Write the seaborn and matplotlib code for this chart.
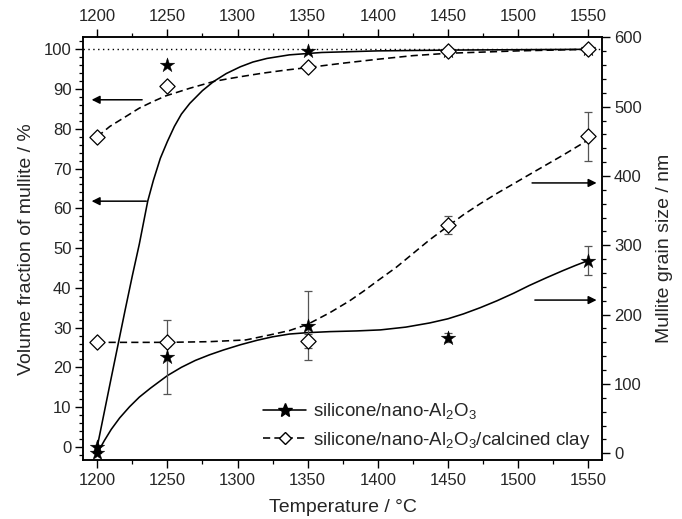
import matplotlib
matplotlib.use("Agg")
import numpy as np
import pandas as pd
import seaborn as sns
import matplotlib.pyplot as plt
from matplotlib.lines import Line2D
from matplotlib.ticker import MultipleLocator

# ---------------- data ----------------
temps = [1200, 1250, 1350, 1450, 1550]

# volume fraction of mullite (%) - left axis
vol_nano = [0, 96, 99.5, 99.6, 100]
vol_clay = [78, 90.7, 95.5, 99.5, 100]

# mullite grain size (nm) - right axis
grain_nano = [0, 138.5, 184, 167, 277.5]
grain_nano_err = [0, 53.6, 50, 7, 21]
grain_clay = [160, 160, 162, 329, 457]
grain_clay_err = [4, 5, 10, 13, 35]

# fitted curves
fit_vol_nano_T = [1200, 1205, 1210, 1215, 1220, 1225, 1230, 1236, 1240, 1245, 1250, 1255, 1260,
                  1266, 1275, 1283, 1292, 1302, 1311, 1321, 1337, 1360, 1400, 1450, 1500, 1550]
fit_vol_nano_v = [0, 8.7, 17.4, 26, 34.6, 43, 51, 61.8, 67, 72.6, 76.8, 80.6, 83.7,
                  86.4, 89.6, 91.9, 93.9, 95.6, 96.8, 97.7, 98.6, 99.2, 99.6, 99.8, 99.9, 100]
fit_vol_clay_T = [1200, 1209, 1220, 1230, 1240, 1249, 1258, 1266, 1275, 1283, 1292, 1302, 1318,
                  1335, 1350, 1375, 1400, 1425, 1450, 1500, 1550]
fit_vol_clay_v = [78, 80.6, 83.0, 85.2, 86.9, 88.3, 89.3, 90.2, 91.1, 91.9, 92.5, 93.1, 94.0,
                  94.8, 95.4, 96.5, 97.5, 98.4, 99.0, 99.6, 100]
fit_grain_nano_T = [1200, 1205, 1210, 1216, 1223, 1230, 1238, 1250, 1260, 1270, 1280, 1290, 1302,
                    1314, 1325, 1337, 1350, 1366, 1385, 1402, 1420, 1437, 1450, 1461, 1473, 1485,
                    1497, 1508, 1520, 1532, 1541, 1550]
fit_grain_nano_r = [0, 18, 34.5, 51, 67, 81, 94, 112, 124, 134, 142, 149, 156.5,
                    163, 168, 172, 174, 175.5, 176.5, 178, 182, 188, 194, 201, 210, 220,
                    231, 242, 253, 263.5, 271, 278]
fit_grain_clay_T = [1200, 1250, 1280, 1306, 1323, 1337, 1350, 1366, 1380, 1390, 1400, 1413, 1425,
                    1437, 1449, 1461, 1473, 1485, 1497, 1508, 1520, 1532, 1550]
fit_grain_clay_r = [160, 160, 161, 163.5, 170.7, 177, 186, 203, 220, 234, 249, 268, 288,
                    308, 326, 344, 360, 375, 389, 402, 416, 430, 452]

# annotation arrows: (tail T, head T, level)
left_arrows = [(1232, 1196, 87.3), (1235, 1196, 61.8)]
right_arrows = [(1510, 1556, 390), (1512, 1556, 221)]

x_ticks = [1200, 1250, 1300, 1350, 1400, 1450, 1500, 1550]
left_ticks = [0, 10, 20, 30, 40, 50, 60, 70, 80, 90, 100]
right_ticks = [0, 100, 200, 300, 400, 500, 600]

label_nano = "silicone/nano-$\\mathregular{Al_2O_3}$"
label_clay = "silicone/nano-$\\mathregular{Al_2O_3}$/calcined clay"

# ---------------- style ----------------
sns.set_theme(style="ticks")
plt.rcParams["font.family"] = ["Liberation Sans", "DejaVu Sans"]
plt.rcParams["mathtext.fontset"] = "custom"
plt.rcParams["mathtext.rm"] = "Liberation Sans"
plt.rcParams["mathtext.default"] = "regular"

fig = plt.figure(figsize=(6.82, 5.19), dpi=100)
ax = fig.add_axes([0.122, 0.1137, 0.761, 0.8143])
ax2 = ax.twinx()

dash = (0, (4.5, 2.6))
lw = 1.15

# curves
sns.lineplot(x=fit_vol_nano_T, y=fit_vol_nano_v, ax=ax, color="black", lw=lw,
             estimator=None, sort=False, legend=False)
sns.lineplot(x=fit_vol_clay_T, y=fit_vol_clay_v, ax=ax, color="black", lw=lw,
             estimator=None, sort=False, legend=False, linestyle=dash)
sns.lineplot(x=fit_grain_nano_T, y=fit_grain_nano_r, ax=ax2, color="black", lw=lw,
             estimator=None, sort=False, legend=False)
sns.lineplot(x=fit_grain_clay_T, y=fit_grain_clay_r, ax=ax2, color="black", lw=lw,
             estimator=None, sort=False, legend=False, linestyle=dash)

# dotted 100% line
ax.axhline(100, color="black", lw=1.0, ls=(0, (1, 2.5)), zorder=1)

# error bars
ax2.errorbar(temps, grain_nano, yerr=grain_nano_err, fmt="none", ecolor="#555555",
             elinewidth=0.9, capsize=3.2, capthick=0.9, zorder=2)
ax2.errorbar(temps, grain_clay, yerr=grain_clay_err, fmt="none", ecolor="#555555",
             elinewidth=0.9, capsize=3.2, capthick=0.9, zorder=2)

# markers
star_s = 120
dia_s = 60
sns.scatterplot(x=temps, y=vol_nano, ax=ax, marker="*", s=star_s, color="black",
                edgecolor="black", linewidth=0.3, zorder=3, legend=False)
sns.scatterplot(x=temps, y=vol_clay, ax=ax, marker="D", s=dia_s, color="white",
                edgecolor="black", linewidth=0.9, zorder=4, legend=False)
sns.scatterplot(x=temps, y=grain_nano, ax=ax2, marker="*", s=star_s, color="black",
                edgecolor="black", linewidth=0.3, zorder=4, legend=False)
sns.scatterplot(x=temps, y=grain_clay, ax=ax2, marker="D", s=dia_s, color="white",
                edgecolor="black", linewidth=0.9, zorder=3, legend=False)

# arrows
for t0, t1, v in left_arrows:
    ax.annotate("", xy=(t1, v), xytext=(t0, v),
                arrowprops=dict(arrowstyle="-|>", color="black", lw=1.1,
                                mutation_scale=12, shrinkA=0, shrinkB=0))
for t0, t1, v in right_arrows:
    ax2.annotate("", xy=(t1, v), xytext=(t0, v),
                 arrowprops=dict(arrowstyle="-|>", color="black", lw=1.1,
                                 mutation_scale=12, shrinkA=0, shrinkB=0))

# axes limits and ticks
ax.set_xlim(1190, 1560)
ax.set_ylim(-3.3, 103)
ax2.set_ylim(-9.7, 600)
ax.set_xticks(x_ticks)
ax.set_yticks(left_ticks)
ax2.set_yticks(right_ticks)
ax.xaxis.set_minor_locator(MultipleLocator(25))
ax.yaxis.set_minor_locator(MultipleLocator(2))
ax2.yaxis.set_minor_locator(MultipleLocator(20))

tick_fs = 12
ax.tick_params(axis="x", which="both", direction="out", top=True, labeltop=True,
               bottom=True, labelbottom=True, labelsize=tick_fs, color="black", pad=4)
ax.tick_params(axis="y", which="both", direction="out", left=True, right=False,
               labelsize=tick_fs, color="black", pad=3)
ax2.tick_params(axis="y", which="both", direction="out", right=True, left=False,
                labelsize=tick_fs, color="black", pad=3)
for a in (ax, ax2):
    a.tick_params(which="major", length=5.5, width=1.0)
    a.tick_params(which="minor", length=3, width=0.9)
    for sp in a.spines.values():
        sp.set_color("black")
        sp.set_linewidth(1.1)
    a.set_facecolor("none")

ax.set_xlabel("Temperature / °C", fontsize=14, labelpad=8)
ax.set_ylabel("Volume fraction of mullite / %", fontsize=14, labelpad=6)
ax2.set_ylabel("Mullite grain size / nm", fontsize=14, labelpad=10)

# legend
handles = [
    Line2D([], [], color="black", lw=lw, marker="*", markersize=10),
    Line2D([], [], color="black", lw=lw, linestyle=dash, marker="D",
           markerfacecolor="white", markeredgecolor="black", markersize=6),
]
ax2.legend(handles, [label_nano, label_clay], loc="lower left",
           bbox_to_anchor=(0.325, -0.005), frameon=False, fontsize=13.5,
           handlelength=2.3, handletextpad=0.35, labelspacing=0.45,
           borderaxespad=0.2)

fig.savefig("out.png", dpi=100)
